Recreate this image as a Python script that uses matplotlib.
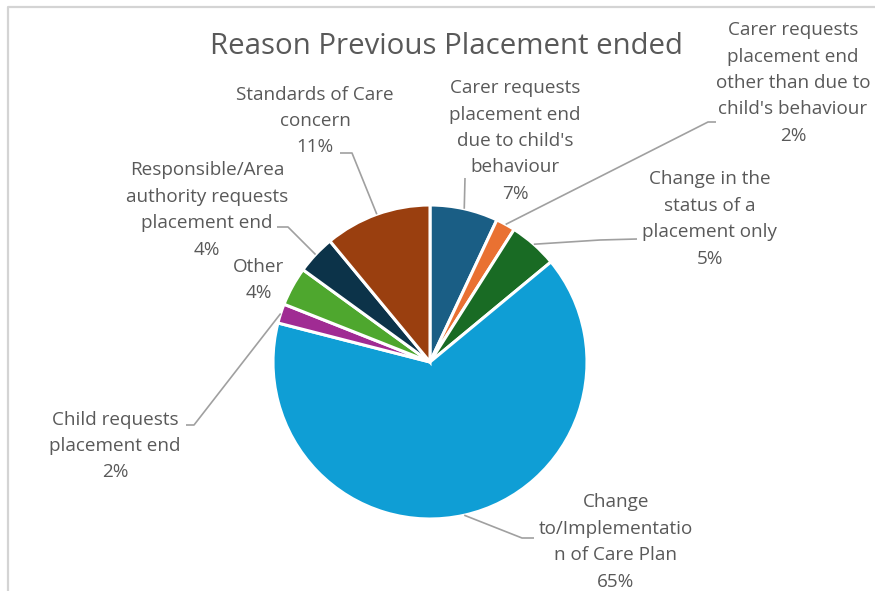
import matplotlib
matplotlib.use('Agg')
import matplotlib.pyplot as plt
import numpy as np

# ---- data ----
categories = [
    "Carer requests\nplacement end\ndue to child's\nbehaviour",
    "Carer requests\nplacement end\nother than due to\nchild's behaviour",
    "Change in the\nstatus of a\nplacement only",
    "Change\nto/Implementatio\nn of Care Plan",
    "Child requests\nplacement end",
    "Other",
    "Responsible/Area\nauthority requests\nplacement end",
    "Standards of Care\nconcern",
]
values = [7, 2, 5, 65, 2, 4, 4, 11]
colors = ['#1A5E85', '#E97132', '#196B24', '#0F9ED5', '#A02B93', '#4EA72E', '#0C3349', '#9A3F0F']
title = "Reason Previous Placement ended"

# ---- layout (pixel coords, y down) ----
W, H = 875, 591
CX, CY, R = 430, 362, 157
label_pos = [(515, 141), (793, 83), (710, 219), (616, 542), (115, 446), (259, 280), (207, 210), (315, 121)]
# leader polylines: points from label side towards the wedge (anchor added automatically)
leaders = [
    [(465, 178)],
    [(716, 122), (708, 122)],
    [(637, 239), (600, 240)],
    [(534, 538), (522, 538)],
    [(186, 425), (194, 425)],
    None,
    [(277, 227), (288, 227)],
    [(340, 153), (352, 153)],
]

FONT = ['Open Sans', 'DejaVu Sans']
TXT = '#595959'

fig = plt.figure(figsize=(W / 100, H / 100), dpi=100)
ax = fig.add_axes([0, 0, 1, 1])

def Y(y):
    return H - y

ax.pie(values, colors=colors, startangle=90, counterclock=False,
       center=(CX, Y(CY)), radius=R,
       wedgeprops=dict(edgecolor='white', linewidth=2.2))
ax.set_xlim(0, W)
ax.set_ylim(0, H)
ax.set_aspect('equal')
ax.axis('off')

total = float(sum(values))
cum = 0.0
for i, (lab, v) in enumerate(zip(categories, values)):
    mid = (cum + v / 2) / total
    cum += v
    ang = np.deg2rad(90 - 360 * mid)
    ax_x = CX + R * np.cos(ang)
    ax_y = CY - R * np.sin(ang)
    lx, ly = label_pos[i]
    ax.text(lx, Y(ly), f"{lab}\n{v}%", ha='center', va='center', fontsize=13.6,
            color=TXT, family=FONT, linespacing=1.6)
    if leaders[i] is not None:
        pts = leaders[i] + [(ax_x, ax_y)]
        xs = [p[0] for p in pts]
        ys = [Y(p[1]) for p in pts]
        ax.plot(xs, ys, color='#A0A0A0', lw=1.2, solid_capstyle='butt')

ax.text(446, Y(46), title, ha='center', va='center', fontsize=21.2, color=TXT, family=FONT)

# chart border (top and left visible)
ax.plot([8, 8, W], [Y(H), Y(7), Y(7)], color='#D4D4D4', lw=1.6)

fig.savefig('out.png', dpi=100)
